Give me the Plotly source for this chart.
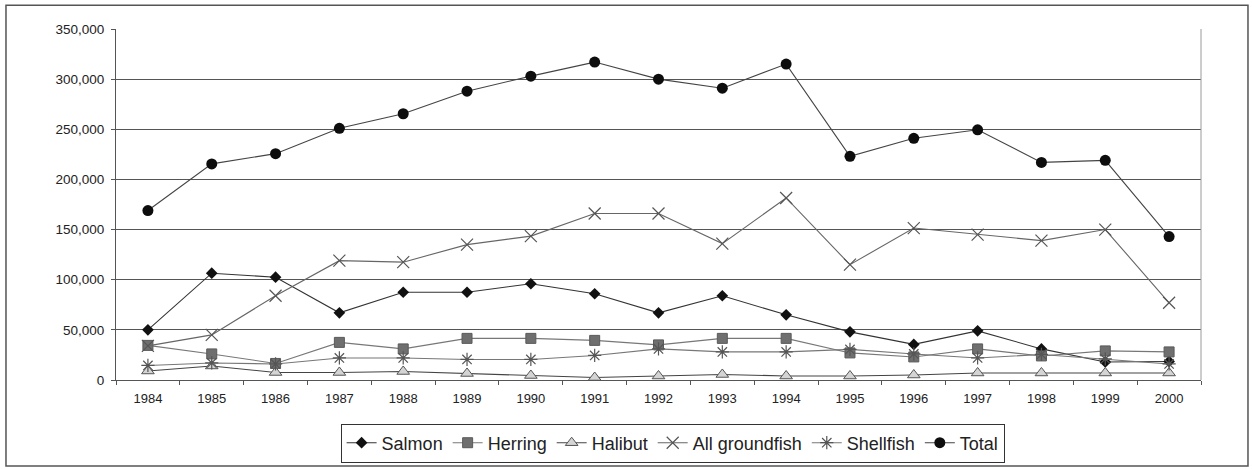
import plotly.graph_objects as go

years = [str(y) for y in range(1984, 2001)]

salmon = [50000, 106500, 102500, 67000, 87500, 87500, 96000, 86000, 67000, 84000,
          65000, 48000, 35500, 49000, 31000, 18000, 18500]
herring = [34500, 26000, 16500, 37500, 31000, 41500, 41500, 39500, 35000, 41500,
           41500, 27000, 23000, 31000, 24000, 29000, 28000]
halibut = [9000, 14000, 7500, 7500, 8500, 6500, 4500, 2500, 4000, 5500,
           4000, 4000, 5000, 7000, 7000, 7000, 7000]
groundfish = [34000, 45000, 84000, 119000, 117500, 135000, 143500, 166000, 166000, 136000,
              181500, 115000, 151500, 145000, 139000, 150000, 77000]
shellfish = [14500, 17000, 16000, 22000, 22000, 20500, 20500, 24500, 31000, 28000,
             28000, 30500, 26000, 22000, 25500, 21000, 16000]
total = [169000, 215500, 225700, 251000, 265500, 288000, 303000, 317000, 300000, 291000,
         315000, 223000, 241000, 249500, 217000, 219000, 143000]

y_ticks = [0, 50000, 100000, 150000, 200000, 250000, 300000, 350000]

series = [
    ("Salmon", salmon, dict(symbol="diamond", size=9, color="#111111",
                            line=dict(width=0))),
    ("Herring", herring, dict(symbol="square", size=10, color="#6f6f6f",
                              line=dict(width=1, color="#5a5a5a"))),
    ("Halibut", halibut, dict(symbol="triangle-up", size=11, color="#d4d4d4",
                              line=dict(width=1, color="#555555"))),
    ("All groundfish", groundfish, dict(symbol="x-thin-open", size=12, color="#555555",
                                        line=dict(width=1.2, color="#555555"))),
    ("Shellfish", shellfish, dict(symbol="asterisk-open", size=11, color="#555555",
                                  line=dict(width=1.2, color="#555555"))),
    ("Total", total, dict(symbol="circle", size=11, color="#0d0d0d",
                          line=dict(width=0))),
]

line_colors = {"Salmon": "#333333", "Herring": "#777777", "Halibut": "#444444",
               "All groundfish": "#666666", "Shellfish": "#777777", "Total": "#444444"}

fig = go.Figure()
for name, vals, marker in series:
    fig.add_trace(go.Scatter(
        x=years, y=vals, name=name, mode="lines+markers",
        line=dict(color=line_colors[name], width=1.1),
        marker=marker,
    ))

fig.update_layout(
    width=1252, height=469,
    margin=dict(l=116, r=51, t=29, b=89, autoexpand=False),
    paper_bgcolor="white", plot_bgcolor="white",
    font=dict(family="Liberation Sans, Arial, sans-serif", size=13, color="#222222"),
    showlegend=True,
    legend=dict(
        orientation="h", x=0.513, xanchor="center",
        yref="container", y=0.097, yanchor="top",
        bordercolor="#333333", borderwidth=1, font=dict(size=18, color="#222222"),
        itemwidth=30, tracegroupgap=0,
    ),
    xaxis=dict(
        type="category", range=[-0.5, 16.5], showgrid=False, automargin=False,
        showline=True, linecolor="#555555", linewidth=1,
        ticks="outside", tickson="boundaries", ticklen=4, tickcolor="#555555",
        tickfont=dict(size=13, color="#222222"), ticklabelstandoff=6,
    ),
    yaxis=dict(
        range=[0, 350000], tickvals=y_ticks, tickformat=",d", automargin=False,
        showgrid=True, gridcolor="#555555", gridwidth=1,
        showline=True, linecolor="#555555", linewidth=1,
        ticks="outside", ticklen=4, tickcolor="#555555",
        tickfont=dict(size=13.5, color="#222222"), ticklabelstandoff=4,
        zeroline=False,
    ),
    shapes=[
        # right edge of the plotting area
        dict(type="line", xref="paper", yref="paper", x0=1, x1=1, y0=0, y1=1,
             line=dict(color="#9a9a9a", width=1)),
        # frame around the whole chart
        dict(type="rect", xref="paper", yref="paper",
             x0=-0.1014, x1=1.0433, y0=-0.245, y1=1.068,
             line=dict(color="#555555", width=1.5)),
    ],
)

fig.write_html("out.html")
